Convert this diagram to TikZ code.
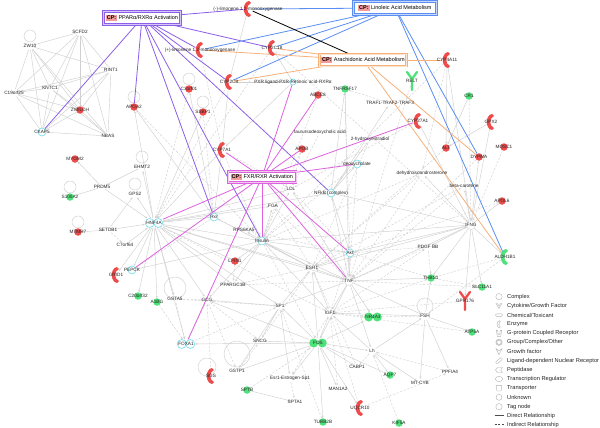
\documentclass[tikz,border=0pt]{standalone}
\usepackage{fontspec}
\setmainfont{Liberation Sans}
\usetikzlibrary{arrows.meta}
\definecolor{ipared}{HTML}{EE4B4B}
\definecolor{ipagrn}{HTML}{4EE27A}
\definecolor{ipacyan}{HTML}{6FDCEA}
\definecolor{cppur}{HTML}{8C5FE8}
\definecolor{cpblue}{HTML}{5A8EF2}
\definecolor{cporange}{HTML}{F6B07A}
\definecolor{cpmag}{HTML}{DE62DE}
\definecolor{edgegray}{HTML}{D0D0D0}
\definecolor{cpchipc}{HTML}{F39A9A}
\pgfdeclarelayer{bg}
\pgfdeclarelayer{edges}
\pgfsetlayers{bg,edges,main}
\newcommand\gnode[5]{\node[#1] (#2) at (#3,#4) {}; \node[lb] at (#3,#4) {#5};}
\newcommand\enzy[5]{\node[pn,minimum size=10pt] (#2) at (#3,#4) {};
  \fill[#1,shift={(#3,#4)}] (1,-8) .. controls (-6,-7) and (-6,7) .. (1,8) -- (3,6) .. controls (-2,4) and (-2,-4) .. (3,-6) -- cycle;
  \node[lb] at (#3,#4) {#5};}
\newcommand\recep[5]{\node[pn,minimum size=10pt] (#2) at (#3,#4) {};
  \draw[#1,line width=2.3pt,line cap=round,line join=round,shift={(#3,#4)}] (-5,-9) -- (0,-2) -- (5,-9) (0,-2) -- (0,9);
  \node[lb] at (#3,#4) {#5};}
\newcommand\dblnode[5]{\node[rectangle,inner sep=0pt,minimum width=18pt,minimum height=9pt] (#2) at (#3,#4) {};
  \path[#1,shift={(#3,#4)}] (-4.3,0) circle (4.5pt) (4.3,0) circle (4.5pt);
  \node[lb] at (#3,#4) {#5};}
\newcommand\selfloop[3]{\begin{pgfonlayer}{edges}\draw[lpst] (#1,#2-#3) circle (#3pt);\end{pgfonlayer}}
\newcommand\cpchip{{\setlength\fboxsep{0.8pt}\colorbox{cpchipc}{\textbf{CP:}}}}
\begin{document}
\begin{tikzpicture}[x=1pt,y=-1pt,
  lb/.style={font=\fontsize{4.7}{5}\selectfont, inner sep=0pt, text=black!85},
  lg/.style={font=\fontsize{5.7}{6}\selectfont, inner sep=0pt, text=black!85, anchor=west},
  base/.style={circle, inner sep=0pt, minimum size=7.5pt},
  rn/.style={base, fill=ipared},
  gn/.style={base, fill=ipagrn},
  cn/.style={base, draw=ipacyan, line width=0.6pt, fill=white, minimum size=8pt},
  pn/.style={base, minimum size=8pt},
  grn/.style={base, draw=gray!30, line width=0.5pt, minimum size=9pt},
  lpst/.style={draw=edgegray, line width=0.45pt},
  ge/.style={draw=edgegray, line width=0.45pt, -{Stealth[length=2.4pt,width=2pt]}},
  gd/.style={ge, dash pattern=on 2.2pt off 1.6pt},
  cpl/.style={line width=0.8pt},
  cpbox/.style={draw=#1, line width=0.7pt, double=#1!35, double distance=0.8pt, fill=white, inner sep=1.5pt, font=\fontsize{5.5}{6}\selectfont},
  lgi/.style={draw=gray!60, line width=0.4pt}
]
\begin{pgfonlayer}{bg}
\fill[white] (0,0) rectangle (600,428);
\end{pgfonlayer}
\useasboundingbox (0,0) rectangle (600,428);

% ---- canonical pathway boxes
\node[cpbox=cppur, minimum width=77pt, minimum height=13pt] (ppar) at (142,18) {\cpchip\ PPARα/RXRα Activation};
\node[cpbox=cpblue, minimum width=83pt, minimum height=13pt] (lino) at (395,8) {\cpchip\ Linoleic Acid Metabolism};
\node[cpbox=cporange, minimum width=87pt, minimum height=12pt] (arach) at (363,60) {\cpchip\ Arachidonic Acid Metabolism};
\node[cpbox=cpmag, minimum width=68pt, minimum height=11pt] (fxr) at (262,177) {\cpchip\ FXR/RXR Activation};

% ---- self loops
\selfloop{30}{42}{6}
\selfloop{134}{103}{6}
\selfloop{189}{85}{6}
\selfloop{203}{108}{6}
\selfloop{70}{193}{6}
\selfloop{78}{228}{6}
\selfloop{142}{163}{6}
\selfloop{135}{190}{6}
\selfloop{175}{299}{11}
\selfloop{237}{367}{13}
\selfloop{207}{376}{9}
\selfloop{425}{314}{8}

% ---- nodes
\gnode{pn}{zw10}{30}{46}{ZW10}
\gnode{pn}{scfd2}{80}{32}{SCFD2}
\gnode{pn}{rint1}{111}{70}{RINT1}
\gnode{pn}{kntc1}{50}{88}{KNTC1}
\gnode{pn}{c19}{14}{93}{C19orf25}
\gnode{rn}{zwilch}{80}{110}{ZWILCH}
\gnode{cn}{ckap5}{42}{132}{CKAP5}
\gnode{pn}{nbas}{108}{136}{NBAS}
\gnode{rn}{apoa2}{134}{107}{APOA2}
\gnode{rn}{c3orf}{189}{89}{C3orf01}
\gnode{rn}{ssbp1}{203}{112}{SSBP1}
\enzy{ipared}{limA}{248}{9}{(-)-limonene 1,2-monooxygenase}
\enzy{ipared}{limB}{200}{50}{(+)-limonene 1,2-monooxygenase}
\enzy{ipared}{cyp2c18}{272}{48}{CYP2C18}
\enzy{ipared}{cyp2c9}{229}{82}{CYP2C9}
\gnode{cn,minimum size=6pt}{pxr}{293}{82}{PXR ligand-PXR-Retinoic acid-RXRα}
\gnode{gn}{tnfr}{345}{89}{TNFRSF17}
\gnode{rn}{abcc}{318}{95}{ABCC8}
\gnode{pn}{traf}{390}{103}{TRAF1-TRAF2-TRAF3}
\gnode{pn}{tauro}{320}{132}{taurursodeoxycholic acid}
\gnode{pn}{hydrox}{370}{139}{2-hydroxyestradiol}
\gnode{rn}{apob}{302}{149}{APOB}
\gnode{cn}{deoxy}{357}{164}{deoxycholate}
\enzy{ipared}{cyp7a1}{222}{150}{CYP7A1}
\gnode{pn}{ldl}{291}{189}{LDL}
\gnode{cn}{nfkb}{331}{193}{NFkB (complex)}
\gnode{pn}{fga}{273}{206}{FGA}
\gnode{cn}{rxr}{214}{217}{Rxr}
\gnode{pn}{rps}{244}{230}{RPS6KA5}
\gnode{cn}{insulin}{262}{241}{Insulin}
\gnode{rn}{lpin1}{235}{261}{LPIN1}
\gnode{pn}{pgc}{233}{285}{PPARGC1B}
\gnode{pn}{esr1}{312}{268}{ESR1}
\gnode{cn}{akt}{350}{253}{Akt}
\gnode{grn}{tnf}{349}{281}{TNF}
\gnode{grn}{ifng}{471}{225}{IFNG}
\gnode{pn}{pdgf}{428}{247}{PDGF BB}
\gnode{gn}{thbs1}{431}{278}{THBS1}
\gnode{gn}{slc}{482}{287}{SLC11A1}
\recep{ipared}{gpr}{465}{301}{GPR176}
\gnode{gn}{atp5a}{472}{332}{ATP5A}
\gnode{pn}{fsh}{425}{316}{FSH}
\gnode{pn}{ppfia4}{450}{372}{PPFIA4}
\gnode{pn}{mtcyb}{420}{383}{MT-CYB}
\gnode{gn}{kif}{399}{423}{KIF5A}
\dblnode{fill=ipagrn}{nr4a3}{373}{317}{NR4A3}
\gnode{pn}{igf1}{330}{313}{IGF1}
\gnode{pn}{sp1}{280}{306}{SP1}
\gnode{pn}{gcg}{207}{300}{GCG}
\dblnode{fill=ipagrn}{fos}{318}{343}{FOS}
\gnode{pn}{sncg}{260}{341}{SNCG}
\gnode{pn}{lh}{372}{351}{Lh}
\gnode{pn}{cabp1}{357}{367}{CABP1}
\gnode{gn}{aqp7}{390}{375}{AQP7}
\gnode{pn}{esrsp1}{290}{378}{Esr1-Estrogen-Sp1}
\gnode{pn}{gstp1}{237}{371}{GSTP1}
\enzy{ipared}{sgs}{211}{376}{SGS}
\gnode{gn}{sptb}{247}{390}{SPTB}
\gnode{pn}{man1a2}{338}{389}{MAN1A2}
\gnode{pn}{spta1}{295}{402}{SPTA1}
\enzy{ipared}{uqcr}{360}{408}{UQCR10}
\gnode{gn}{tubb}{323}{422}{TUBB2B}
\dblnode{fill=white,draw=ipacyan,line width=0.6pt}{foxa1}{186}{344}{FOXA1}
\gnode{pn}{gsta5}{175}{299}{GSTA5}
\gnode{gn}{a1bg}{157}{302}{A1BG}
\gnode{gn}{c20}{138}{296}{C20orf32}
\enzy{ipared}{grid1}{116}{275}{GRID1}
\gnode{cn}{pepck}{132}{270}{PEPCK}
\gnode{pn}{c7orf}{125}{245}{C7orf64}
\gnode{pn}{setdb1}{108}{230}{SETDB1}
\gnode{rn}{mtmr7}{78}{232}{MTMR7}
\dblnode{fill=white,draw=ipacyan,line width=0.6pt}{hnf4a}{154}{223}{HNF4A}
\gnode{pn}{gps2}{135}{194}{GPS2}
\gnode{pn}{prdm5}{102}{187}{PRDM5}
\gnode{gn}{s100a2}{70}{197}{S100A2}
\gnode{pn}{ehmt2}{142}{167}{EHMT2}
\gnode{rn}{myom2}{75}{159}{MYOM2}
\enzy{ipared}{cyp4a11}{447}{60}{CYP4A11}
\recep{ipagrn}{relt}{412}{81}{RELT}
\gnode{gn}{cr1}{469}{96}{CR1}
\enzy{ipared}{gpx2}{491}{122}{GPX2}
\enzy{ipared}{cyp27a1}{418}{121}{CYP27A1}
\gnode{rn}{alt}{446}{148}{ALT}
\gnode{rn}{mosc1}{504}{147}{MOSC1}
\gnode{rn}{dypma}{479}{157}{DYPMA}
\gnode{pn}{dhea}{422}{173}{dehydroisoandrosterone}
\gnode{pn}{betacar}{464}{186}{beta-carotene}
\gnode{rn}{apol6}{502}{201}{APOL6}
\enzy{ipagrn}{aldh}{505}{257}{ALDH1B1}

% ---- edges
\begin{pgfonlayer}{edges}
\foreach \a [count=\i] in {zw10,scfd2,rint1,kntc1,c19,zwilch,ckap5,nbas}{
  \foreach \b [count=\j] in {zw10,scfd2,rint1,kntc1,c19,zwilch,ckap5,nbas}{
    \ifnum\j>\i \draw[draw=edgegray, line width=0.45pt] (\a) -- (\b); \fi}}
\foreach \a/\b in {hnf4a/ehmt2, hnf4a/gps2, setdb1/hnf4a, c7orf/hnf4a, hnf4a/pepck, hnf4a/grid1, hnf4a/c20, hnf4a/a1bg, hnf4a/gsta5, hnf4a/gcg, hnf4a/foxa1, hnf4a/insulin, hnf4a/rxr, hnf4a/tnf, hnf4a/esr1, hnf4a/sp1, hnf4a/cyp7a1, hnf4a/apoa2, hnf4a/ssbp1, hnf4a/pgc, hnf4a/lpin1, hnf4a/ldl, hnf4a/fga, hnf4a/nfkb, prdm5/myom2, prdm5/s100a2, prdm5/hnf4a, mtmr7/setdb1, setdb1/gps2, ehmt2/prdm5, rxr/cyp7a1, rxr/c3orf, rxr/apoa2, insulin/akt, insulin/fga, insulin/ldl, insulin/rps, insulin/lpin1, insulin/pgc, insulin/gcg, insulin/pepck, insulin/esr1, insulin/igf1, insulin/tnf, tnf/akt, tnf/esr1, tnf/nfkb, tnf/igf1, tnf/fos, tnf/sp1, tnf/ifng, tnf/thbs1, tnf/nr4a3, tnf/lh, tnf/fsh, tnf/tnfr, tnf/ldl, fos/sp1, fos/igf1, fos/sncg, fos/gstp1, fos/esrsp1, fos/man1a2, fos/cabp1, fos/uqcr, fos/tubb, fos/aqp7, fos/lh, fos/nr4a3, fos/esr1, fos/gcg, fos/foxa1, sp1/gstp1, sp1/sncg, sp1/esr1, sp1/esrsp1, sp1/gcg, esr1/akt, esr1/igf1, esr1/rxr, ifng/dhea, ifng/betacar, ifng/apol6, ifng/dypma, ifng/cyp4a11, ifng/thbs1, ifng/aldh, ifng/slc, ifng/gpr, ifng/akt, ifng/nfkb, ifng/esr1, ifng/pdgf, ifng/cyp27a1, ifng/insulin, ifng/gpx2, lh/fsh, lh/igf1, lh/aqp7, lh/mtcyb, fsh/igf1, fsh/ppfia4, fsh/atp5a, fsh/mtcyb, fsh/thbs1, sptb/spta1, nfkb/tnfr, nfkb/traf, nfkb/deoxy, nfkb/akt, nfkb/hydrox, pxr/cyp2c9, pxr/cyp2c18, pxr/cyp7a1, cyp2c9/cyp7a1, limA/cyp2c9, cr1/alt, cyp4a11/alt, gpx2/alt}
  \draw[ge] (\a) -- (\b);
\foreach \a/\b in {gsta5/foxa1, gsta5/sp1, gcg/foxa1, gcg/sncg, gcg/gstp1, foxa1/sp1, igf1/akt, igf1/thbs1, igf1/nr4a3, igf1/pdgf, akt/pdgf, akt/thbs1, pdgf/thbs1, pdgf/tnf, thbs1/slc, atp5a/igf1, ppfia4/lh, aldh/thbs1, aldh/fsh, gpr/igf1, slc/tnf, esrsp1/spta1, man1a2/igf1, cabp1/esr1, uqcr/igf1, uqcr/ppfia4, kif/lh, tubb/sp1, sncg/esr1, gstp1/sncg, sgs/gcg, sptb/fos, deoxy/insulin, deoxy/tnf, tauro/ldl, hydrox/esr1, apob/ldl, apob/insulin, dhea/tnf, dhea/esr1, dhea/insulin, betacar/esr1, betacar/tnf, cyp4a11/insulin, cyp27a1/ldl, dypma/tnf, apol6/akt, alt/esr1, traf/tnfr, rps/akt, lpin1/pgc, pgc/esr1, pgc/tnf, ldl/akt, fga/tnf, fga/esr1, rxr/pepck, rxr/esr1, cyp7a1/insulin, cyp7a1/ldl, cyp2c9/hnf4a, cyp2c18/hnf4a, ssbp1/rxr, limB/cyp7a1, abcc/insulin, tnfr/akt, cyp2c18/ifng, cyp4a11/dhea, mosc1/ifng, cr1/ifng, relt/tnf, c3orf/hnf4a, apoa2/insulin, setdb1/c7orf, gsta5/gcg, a1bg/foxa1, hnf4a/igf1, insulin/fos, igf1/esrsp1, lh/cabp1, nr4a3/fsh}
  \draw[gd] (\a) -- (\b);
% canonical pathway connectors
\foreach \b in {ckap5, apoa2, limA, limB, cyp2c18, cyp2c9, rxr, insulin, nfkb}
  \draw[cpl, cppur] (ppar) -- (\b);
\foreach \b in {limA, limB, cyp2c18, cyp2c9, dypma, aldh}
  \draw[cpl, cpblue] (lino) -- (\b);
\foreach \b in {limB, cyp2c18, cyp2c9, cyp4a11, dypma, aldh}
  \draw[cpl, cporange] (arach) -- (\b);
\draw[cpl, black] (limA) -- (arach);
\foreach \b in {pxr, abcc, apob, deoxy, cyp27a1, cyp7a1, hnf4a, pepck, foxa1, insulin, akt, tnf}
  \draw[cpl, cpmag] (fxr) -- (\b);
\end{pgfonlayer}

% ---- legend
\draw[lgi] (499,296.7) circle (3.2pt);
\draw[lgi] (496,303.5) -- (499,308.5) -- (502,303.5) -- (500.5,303.5) -- (499,306) -- (497.5,303.5) -- cycle;
\draw[lgi, rounded corners=1pt] (495.5,313.8) rectangle (502.5,316.3);
\draw[lgi, shift={(499,324.3)}, scale=0.45] (1,-8) .. controls (-6,-7) and (-6,7) .. (1,8) -- (3,6) .. controls (-2,4) and (-2,-4) .. (3,-6) -- cycle;
\draw[lgi] (496.3,330.3) -- (497.3,336.3) -- (500.7,336.3) -- (501.7,330.3) -- (500.3,330.3) -- (499.8,334.3) -- (498.2,334.3) -- (497.7,330.3) -- cycle;
\draw[lgi] (499,342.3) circle (3.2pt) (499,342.3) circle (2.2pt);
\draw[lgi] (496,348.7) -- (499,354.7) -- (502,348.7) -- (499,350.7) -- cycle;
\draw[lgi, rounded corners=0.8pt, rotate around={40:(499,360.7)}] (495.3,359.5) rectangle (502.7,361.9);
\draw[lgi] (502.5,367.5) -- (497.5,367.5) -- (495.5,370) -- (497.5,372.5) -- (502.5,372.5) -- (500.8,370) -- cycle;
\draw[lgi] (499,379) ellipse (3.6pt and 2.6pt);
\draw[lgi] (496,385.3) -- (502,385.3) -- (501,391) -- (497,391) -- cycle;
\draw[lgi] (499,397.3) circle (3pt);
\draw[lgi] (499,406.7) circle (3.2pt);
\draw[draw=black!70, line width=0.5pt] (494.5,415.7) -- (503.5,415.7);
\draw[draw=black!70, line width=0.5pt, dash pattern=on 2pt off 1.5pt] (494.5,424.7) -- (503.5,424.7);
\node[lg] (l1) at (507,296.7) {Complex};
\node[lg] (l2) at (507,306) {Cytokine/Growth Factor};
\node[lg] (l3) at (507,315) {Chemical/Toxicant};
\node[lg] (l4) at (507,324.3) {Enzyme};
\node[lg] (l5) at (507,333.3) {G-protein Coupled Receptor};
\node[lg] (l6) at (507,342.3) {Group/Complex/Other};
\node[lg] (l7) at (507,351.7) {Growth factor};
\node[lg] (l8) at (507,360.7) {Ligand-dependent Nuclear Receptor};
\node[lg] (l9) at (507,370) {Peptidase};
\node[lg] (l10) at (507,379) {Transcription Regulator};
\node[lg] (l11) at (507,388) {Transporter};
\node[lg] (l12) at (507,397.3) {Unknown};
\node[lg] (l13) at (507,406.7) {Tag node};
\node[lg] (l14) at (507,415.7) {Direct Relationship};
\node[lg] (l15) at (507,424.7) {Indirect Relationship};
\end{tikzpicture}
\end{document}
